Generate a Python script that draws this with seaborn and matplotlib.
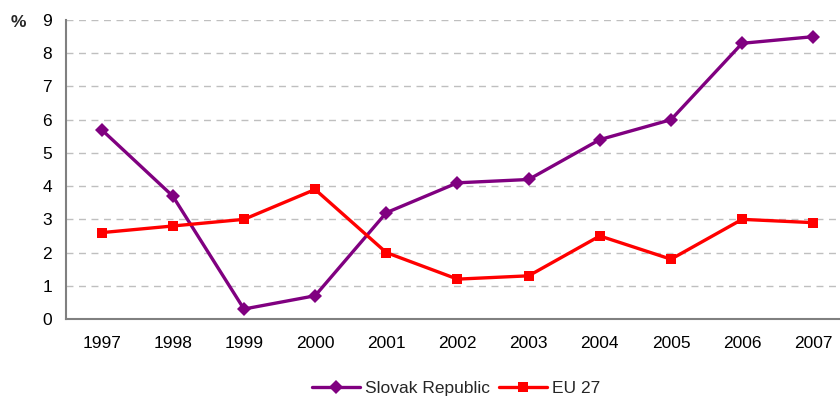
import matplotlib
matplotlib.use("Agg")
import matplotlib.pyplot as plt
import seaborn as sns
import pandas as pd
import numpy as np

years = [1997, 1998, 1999, 2000, 2001, 2002, 2003, 2004, 2005, 2006, 2007]
slovak = [5.7, 3.7, 0.3, 0.7, 3.2, 4.1, 4.2, 5.4, 6.0, 8.3, 8.5]
eu27 = [2.6, 2.8, 3.0, 3.9, 2.0, 1.2, 1.3, 2.5, 1.8, 3.0, 2.9]
series_names = ["Slovak Republic", "EU 27"]

df = pd.DataFrame({
    "year": years * 2,
    "value": slovak + eu27,
    "series": [series_names[0]] * len(years) + [series_names[1]] * len(years),
})

sns.set_style("white")
plt.rcParams["font.family"] = ["Liberation Sans", "DejaVu Sans"]

fig = plt.figure(figsize=(8.4, 4.01), dpi=100)
ax = fig.add_axes([0.0786, 0.2045, 0.932, 0.7455])

palette = {series_names[0]: "#800080", series_names[1]: "#FF0000"}
markers = {series_names[0]: "D", series_names[1]: "s"}
sns.lineplot(data=df, x="year", y="value", hue="series", style="series",
             palette=palette, markers=markers, dashes=False, linewidth=2.4,
             markersize=7.5, markeredgewidth=0, ax=ax)

ax.set_xlim(years[0] - 0.5, years[-1] + 0.5)
ax.set_ylim(0, 9)
ax.set_yticks(range(0, 10))
ax.set_xticks(years)
ax.set_xticks(np.arange(years[0] - 0.5, years[-1] + 0.6, 1.0), minor=True)
ax.tick_params(axis="x", which="major", length=0, labelsize=12.5, pad=12, colors="#000000")
ax.tick_params(axis="x", which="minor", length=4, width=1, color="#808080", direction="out")
ax.tick_params(axis="y", which="major", length=4, width=1, color="#808080", direction="out",
               labelsize=12.5, pad=6, labelcolor="#000000")
ax.set_xlabel("")
ax.set_ylabel("")

ax.yaxis.grid(True, color="#BFBFBF", linestyle=(0, (5, 4)), linewidth=1)
ax.set_axisbelow(True)
for side in ["top", "right"]:
    ax.spines[side].set_visible(False)
for side in ["left", "bottom"]:
    ax.spines[side].set_color("#808080")
    ax.spines[side].set_linewidth(1.5)

fig.text(0.013, 0.945, "%", fontsize=12.5, fontweight="bold", va="center", ha="left")

handles, labels = ax.get_legend_handles_labels()
ax.legend(handles, labels, loc="center", bbox_to_anchor=(0.543, 0.032), bbox_transform=fig.transFigure,
          ncol=2, frameon=False, fontsize=12.5, handlelength=2.75, columnspacing=0.5, handletextpad=0.3)

fig.savefig("out.png", dpi=100)
